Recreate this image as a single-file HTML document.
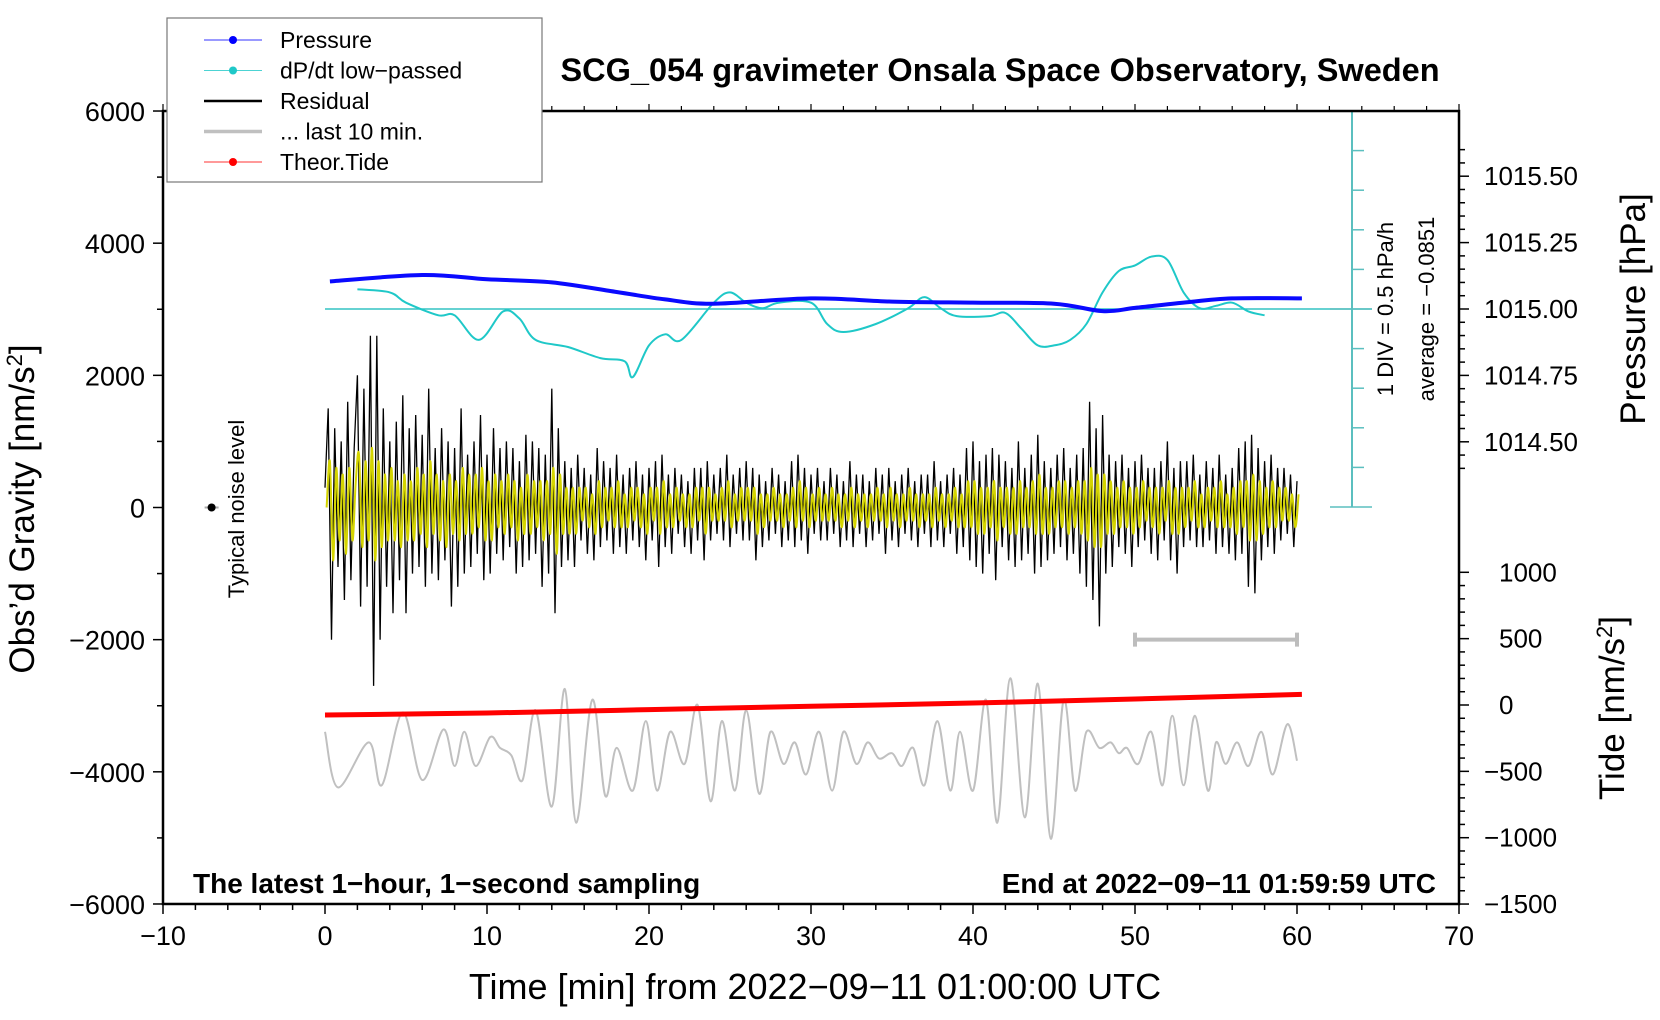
<!DOCTYPE html>
<html><head><meta charset="utf-8"><style>
html,body{margin:0;padding:0;background:#fff;}
svg{display:block;font-family:"Liberation Sans",sans-serif;}
</style></head><body>
<svg id="chart" width="1660" height="1020" viewBox="0 0 1660 1020">
<g id="marks"></g>
<g id="axes"></g>
</svg>
<script>
// ---- data ----
const pressureT = [0.3, 6, 10, 14, 18, 21, 24, 30, 35, 40, 45, 48, 50, 53, 56, 60.3];
const pressureV = [1015.104, 1015.128, 1015.112, 1015.10, 1015.064, 1015.036, 1015.02, 1015.04, 1015.028, 1015.024, 1015.02, 1014.992, 1015.004, 1015.024, 1015.04, 1015.04];
const dpdtT = [2,4,5,7,8,9.5,11,12,13,15,17,18.5,19,20,21,22,24,25,26,27,28,30,31,32,34,36,37,38,39,41,42,43,44,45,46,47,48,49,50,51,52,53,54,55,56,57,58];
const dpdtV = [0.25,0.21,0.08,-0.08,-0.08,-0.39,-0.03,-0.12,-0.39,-0.48,-0.62,-0.66,-0.86,-0.46,-0.32,-0.39,0.08,0.21,0.08,0.01,0.08,0.08,-0.19,-0.29,-0.19,0.01,0.15,0.01,-0.09,-0.09,-0.05,-0.25,-0.46,-0.46,-0.39,-0.19,0.21,0.48,0.55,0.66,0.62,0.21,0.01,0.04,0.08,-0.03,-0.08];
// residual samples every 0.2 min, units of 100 nm/s^2
const residualV = [3,15,-20,12,-9, 10,-14,16,-11,9, 20,-15,18,-12,26, -27,26,-20,15,-12, 10,-16,13,-11,17, -16,12,-10,14,-9, 11,-12,18,-10,9, -11,12,-8,10,-15, 9,-12,15,-10,8, -9,10,-7,14,-11,
8,-10,12,-7,9, -8,10,-6,9,-10, 7,-9,11,-8,10, -7,9,-12,8,-10, 18,-16,12,-9,7, -8,6,-9,8,-5, 6,-7,5,-8,9, -6,7,-5,6,-7, 8,-6,5,-7,6, -5,7,-6,5,-8,
6,-5,7,-9,8, -6,5,-7,6,-4, 5,-6,4,-7,6, -5,6,-8,7,-5, 5,-4,6,-5,8, -6,5,-4,6,-5, 7,-5,6,-8,5, -6,4,-5,6,-4, 5,-6,4,-5,7, -6,8,-5,6,-7,
5,-4,6,-5,4, -5,6,-4,5,-6, 4,-5,7,-6,5, -4,5,-6,4,-5, 6,-4,5,-7,6, -5,4,-6,5,-4, 6,-5,4,-6,5, -4,5,-6,7,-5, 4,-6,5,-4,6, -7,5,-6,9,-8,
10,-9,7,-10,8, -7,9,-11,8,-6, 7,-8,6,-9,10, -8,6,-7,8,-10, 11,-9,7,-8,6, -7,8,-6,9,-8, 6,-7,8,-10,9, -12,16,-14,12,-18, 14,-10,8,-9,7, -6,8,-7,6,-9,
7,-6,8,-5,6, -7,6,-8,7,-5, 10,-8,6,-10,7, -6,7,-5,8,-6, 5,-6,7,-5,6, -7,8,-6,5,-7, 6,-8,9,-7,10, -12,11,-13,9,-8, 7,-6,8,-7,6, -5,6,-4,5,-6, 4];
const filteredV = [0,7,-8,6,-5, 5,-7,6,-5,4, 8,-6,7,-5,9, -8,7,-6,5,-5, 6,-5,4,-6,5, -5,4,-5,6,-4, 5,-6,7,-4,5, -5,4,-6,5,-4, 4,-5,6,-4,5, -4,5,-3,6,-5,
4,-5,5,-3,4, -4,5,-3,4,-5, 3,-4,5,-4,4, -3,4,-5,4,-4, 6,-7,5,-4,3, -4,3,-4,3,-2, 3,-3,2,-4,4, -3,3,-2,3,-3, 4,-3,2,-3,3, -2,3,-3,2,-4,
3,-2,3,-4,4, -3,2,-3,3,-2, 2,-3,2,-3,3, -2,3,-4,3,-2, 2,-2,3,-2,4, -3,2,-2,3,-2, 3,-2,3,-4,2, -3,2,-2,3,-2, 2,-3,2,-2,3, -3,4,-2,3,-3,
2,-2,3,-2,2, -2,3,-2,2,-3, 2,-2,3,-3,2, -2,2,-3,2,-2, 3,-2,2,-3,3, -2,2,-3,2,-2, 3,-2,2,-3,2, -2,2,-3,3,-2, 2,-3,2,-2,3, -3,2,-3,4,-3,
4,-4,3,-4,3, -3,4,-5,3,-3, 3,-4,3,-4,4, -3,3,-3,4,-4, 5,-4,3,-4,3, -3,4,-3,4,-4, 3,-3,4,-4,4, -5,6,-6,5,-6, 5,-4,4,-4,3, -3,4,-3,3,-4,
3,-3,4,-2,3, -3,3,-4,3,-2, 4,-4,3,-4,3, -3,3,-2,4,-3, 2,-3,3,-2,3, -3,4,-3,2,-3, 3,-4,4,-3,4, -5,5,-5,4,-4, 3,-3,4,-3,3, -2,3,-2,2,-3, 2];
const longT = [0,0.8,2.7,3.5,4.8,6,7.3,8,8.6,9.3,10.2,10.8,11.5,12.2,13,14,14.8,15.5,16.5,17.3,18,19,19.8,20.5,21.3,22.2,23,23.8,24.5,25.3,26,26.8,27.5,28.3,29,29.7,30.5,31.3,32,32.8,33.5,34.2,35,35.6,36.3,37,37.8,38.6,39.2,40,40.8,41.5,42.3,43.2,44,44.8,45.6,46.3,47,47.8,48.5,49,49.5,50.2,51,51.7,52.3,53,53.7,54.5,55,55.6,56.3,57,57.8,58.5,59.4,60];
const longV = [-202,-621,-282,-605,-56,-565,-185,-460,-202,-460,-242,-323,-379,-565,-40,-766,121,-887,40,-685,-323,-645,-121,-645,-202,-444,0,-726,-121,-645,-40,-669,-202,-444,-282,-524,-202,-645,-202,-444,-282,-403,-363,-460,-323,-605,-121,-645,-202,-645,40,-887,202,-847,161,-1008,40,-645,-202,-323,-282,-363,-323,-444,-202,-605,-81,-605,-81,-645,-282,-444,-282,-460,-202,-524,-145,-420];
const tideT = [0,10,20,30,40,50,60.3];
const tideV = [-75,-60,-35,-10,15,45,80];
const xTicks = [-10,0,10,20,30,40,50,60,70];
const gTicks = [6000,4000,2000,0,-2000,-4000,-6000];
const pTicks = [1015.50,1015.25,1015.00,1014.75,1014.50];
const tTicks = [1000,500,0,-500,-1000,-1500];

// ---- scales ----
const X = t => 325 + t*16.2;
const GY = g => 507.5 - g*0.06608;
const PY = p => 309 - (p-1015)*265.6;
const TY = v => 705 - v*0.1327;
const DY = v => 309 - v*79.2;
const NS = "http://www.w3.org/2000/svg";
const marks = document.getElementById('marks');
const axes = document.getElementById('axes');
function mk(tag, attrs, parent){const e=document.createElementNS(NS,tag);for(const k in attrs)e.setAttribute(k,attrs[k]);(parent||marks).appendChild(e);return e;}
function smooth(pts){
  let d=`M${pts[0][0].toFixed(1)},${pts[0][1].toFixed(1)}`;
  for(let i=0;i<pts.length-1;i++){const p0=pts[Math.max(i-1,0)],p1=pts[i],p2=pts[i+1],p3=pts[Math.min(i+2,pts.length-1)];
    d+=`C${(p1[0]+(p2[0]-p0[0])/6).toFixed(1)},${(p1[1]+(p2[1]-p0[1])/6).toFixed(1)} ${(p2[0]-(p3[0]-p1[0])/6).toFixed(1)},${(p2[1]-(p3[1]-p1[1])/6).toFixed(1)} ${p2[0].toFixed(1)},${p2[1].toFixed(1)}`;}
  return d;}

let e;
e = mk('line',{x1:X(0),x2:1372,y1:DY(0),y2:DY(0),stroke:'#33c4c4','stroke-width':1.5});


e = mk('line',{x1:1352,x2:1352,y1:DY(2.5),y2:DY(0)+198,stroke:'#5bbfbf','stroke-width':2});


for(let i=0;i<=10;i++){const y=111+i*39.6;const full=(i===0||i===10||i===5);
  const tk=mk('line',{x1:full?1330:1352,x2:full?1372:1364,y1:y,y2:y,stroke:'#5bbfbf','stroke-width':1.5});
  
  }

e = mk('path',{d:'M'+residualV.map((v,i)=>X(i*0.2).toFixed(1)+','+GY(v*100).toFixed(1)).join('L'),fill:'none',stroke:'#000','stroke-width':1.3});


e = mk('path',{d:smooth(filteredV.map((v,i)=>[X(i*0.2+0.1),GY(v*100)])),fill:'none',stroke:'#d4d400','stroke-width':2});



e = mk('path',{d:smooth(dpdtT.map((t,i)=>[X(t),DY(dpdtV[i])])),fill:'none',stroke:'#1fc8c8','stroke-width':2});


e = mk('path',{d:smooth(pressureT.map((t,i)=>[X(t),PY(pressureV[i])])),fill:'none',stroke:'#0a0aff','stroke-width':4});



e = mk('path',{d:smooth(longT.map((t,i)=>[X(t),TY(longV[i])])),fill:'none',stroke:'#c0c0c0','stroke-width':2});


e = mk('path',{d:smooth(tideT.map((t,i)=>[X(t),TY(tideV[i])])),fill:'none',stroke:'#ff0000','stroke-width':5});



e = mk('path',{d:`M${X(50)},${GY(-2000)}H${X(60)}M${X(50)},${GY(-2000)-7}V${GY(-2000)+7}M${X(60)},${GY(-2000)-7}V${GY(-2000)+7}`,stroke:'#bdbdbd','stroke-width':4,fill:'none'});


e = mk('line',{x1:X(-7)-7,x2:X(-7)+7,y1:GY(0),y2:GY(0),stroke:'#aaa','stroke-width':2});


e = mk('circle',{cx:X(-7),cy:GY(0),r:4,fill:'#000'});



// ---- axes ----
const L=X(-10), R=X(70), T=GY(6000), B=GY(-6000);
e = mk('rect',{x:L,y:T,width:R-L,height:B-T,fill:'none',stroke:'#000','stroke-width':2.5},axes);


function ln(x1,y1,x2,y2,w){mk('line',{x1,y1,x2,y2,stroke:'#000','stroke-width':w||1.5},axes);}
function txt(s,x,y,attrs,name){const t=mk('text',Object.assign({x,y,'font-size':26,fill:'#000'},attrs),axes);t.textContent=s;
  
  return t;}
for(let t=-10;t<=70;t+=2){const maj=t%10===0;ln(X(t),B,X(t),B+(maj?10:6));ln(X(t),T,X(t),T-(maj?7:5),1.2);}
xTicks.forEach(t=>txt(String(t).replace('-','\u2212'),X(t),B+41,{'text-anchor':'middle','font-size':27},'x-tick-label'));
for(let g=-6000;g<=6000;g+=1000){const maj=g%2000===0;ln(L,GY(g),L-(maj?10:6),GY(g));}
gTicks.forEach(g=>txt(String(g).replace('-','\u2212'),L-18,GY(g)+10,{'text-anchor':'end','font-size':27},'y-tick-label'));
for(let p=1014.40;p<=1015.6001;p+=0.05){ln(R,PY(p),R+(Math.abs(p*4-Math.round(p*4))<1e-6?10:6),PY(p));}
pTicks.forEach(p=>txt(p.toFixed(2),R+25,PY(p)+9,{},'pressure-tick-label'));
for(let v=-1500;v<=1000;v+=100){ln(R,TY(v),R+(v%500===0?10:6),TY(v));}
tTicks.forEach(v=>txt(String(v).replace('-','\u2212'),R+(v<0?25:40),TY(v)+9,{},'tide-tick-label'));

txt('SCG_054 gravimeter Onsala Space Observatory, Sweden',1000,81,{'text-anchor':'middle','font-weight':'bold','font-size':32.5},'chart-title');
txt('Time [min] from 2022\u221209\u221211 01:00:00 UTC',815,999,{'text-anchor':'middle','font-size':36},'x-axis-title');
let yt=txt('Obs\u2019d Gravity [nm/s',0,0,{'text-anchor':'middle','font-size':35,transform:'translate(34,509) rotate(-90)'},'y-axis-title');
let sp=mk('tspan',{'font-size':22,dy:-12},yt);sp.textContent='2';sp=mk('tspan',{dy:12},yt);sp.textContent=']';
txt('Pressure [hPa]',0,0,{'text-anchor':'middle','font-size':35,transform:'translate(1645,309) rotate(-90)'},'pressure-axis-title');
yt=txt('Tide [nm/s',0,0,{'text-anchor':'middle','font-size':35,transform:'translate(1624,708) rotate(-90)'},'tide-axis-title');
sp=mk('tspan',{'font-size':22,dy:-12},yt);sp.textContent='2';sp=mk('tspan',{dy:12},yt);sp.textContent=']';
txt('1 DIV = 0.5 hPa/h',0,0,{'text-anchor':'middle','font-size':22,transform:'translate(1393,309) rotate(-90)'},'dpdt-scale-label');
txt('average = \u22120.0851',0,0,{'text-anchor':'middle','font-size':22,transform:'translate(1434,309) rotate(-90)'},'dpdt-average-label');
txt('Typical noise level',0,0,{'text-anchor':'middle','font-size':22,transform:'translate(244,509) rotate(-90)'},'noise-level-label');
txt('The latest 1\u2212hour, 1\u2212second sampling',193,893,{'font-weight':'bold','font-size':28},'sampling-note');
txt('End at 2022\u221209\u221211 01:59:59 UTC',1436,893,{'text-anchor':'end','font-weight':'bold','font-size':28},'end-time-note');

// ---- legend ----
const lg=mk('g',{},axes);


mk('rect',{x:167,y:18,width:375,height:164,fill:'#fff',stroke:'#777','stroke-width':1.2},lg);
const legNames=['Pressure','dP/dt low\u2212passed','Residual','... last 10 min.','Theor.Tide'];
const legCols=['#0000ff','#1fc8c8','#000','#c0c0c0','#ff0000'];
legNames.forEach((n,i)=>{const y=40+i*30.5;
  const ent=mk('g',{},lg);
  
  
  const dot=(i===0||i===1||i===4);
  mk('line',{x1:204,x2:262,y1:y,y2:y,stroke:legCols[i],'stroke-width':dot?1:(i===2?2.5:3.5),'stroke-opacity':dot?0.8:1},ent);
  if(dot)mk('circle',{cx:233,cy:y,r:4,fill:legCols[i]},ent);
  const t=mk('text',{x:280,y:y+8,'font-size':23},ent);t.textContent=n;});
</script>
</body></html>
